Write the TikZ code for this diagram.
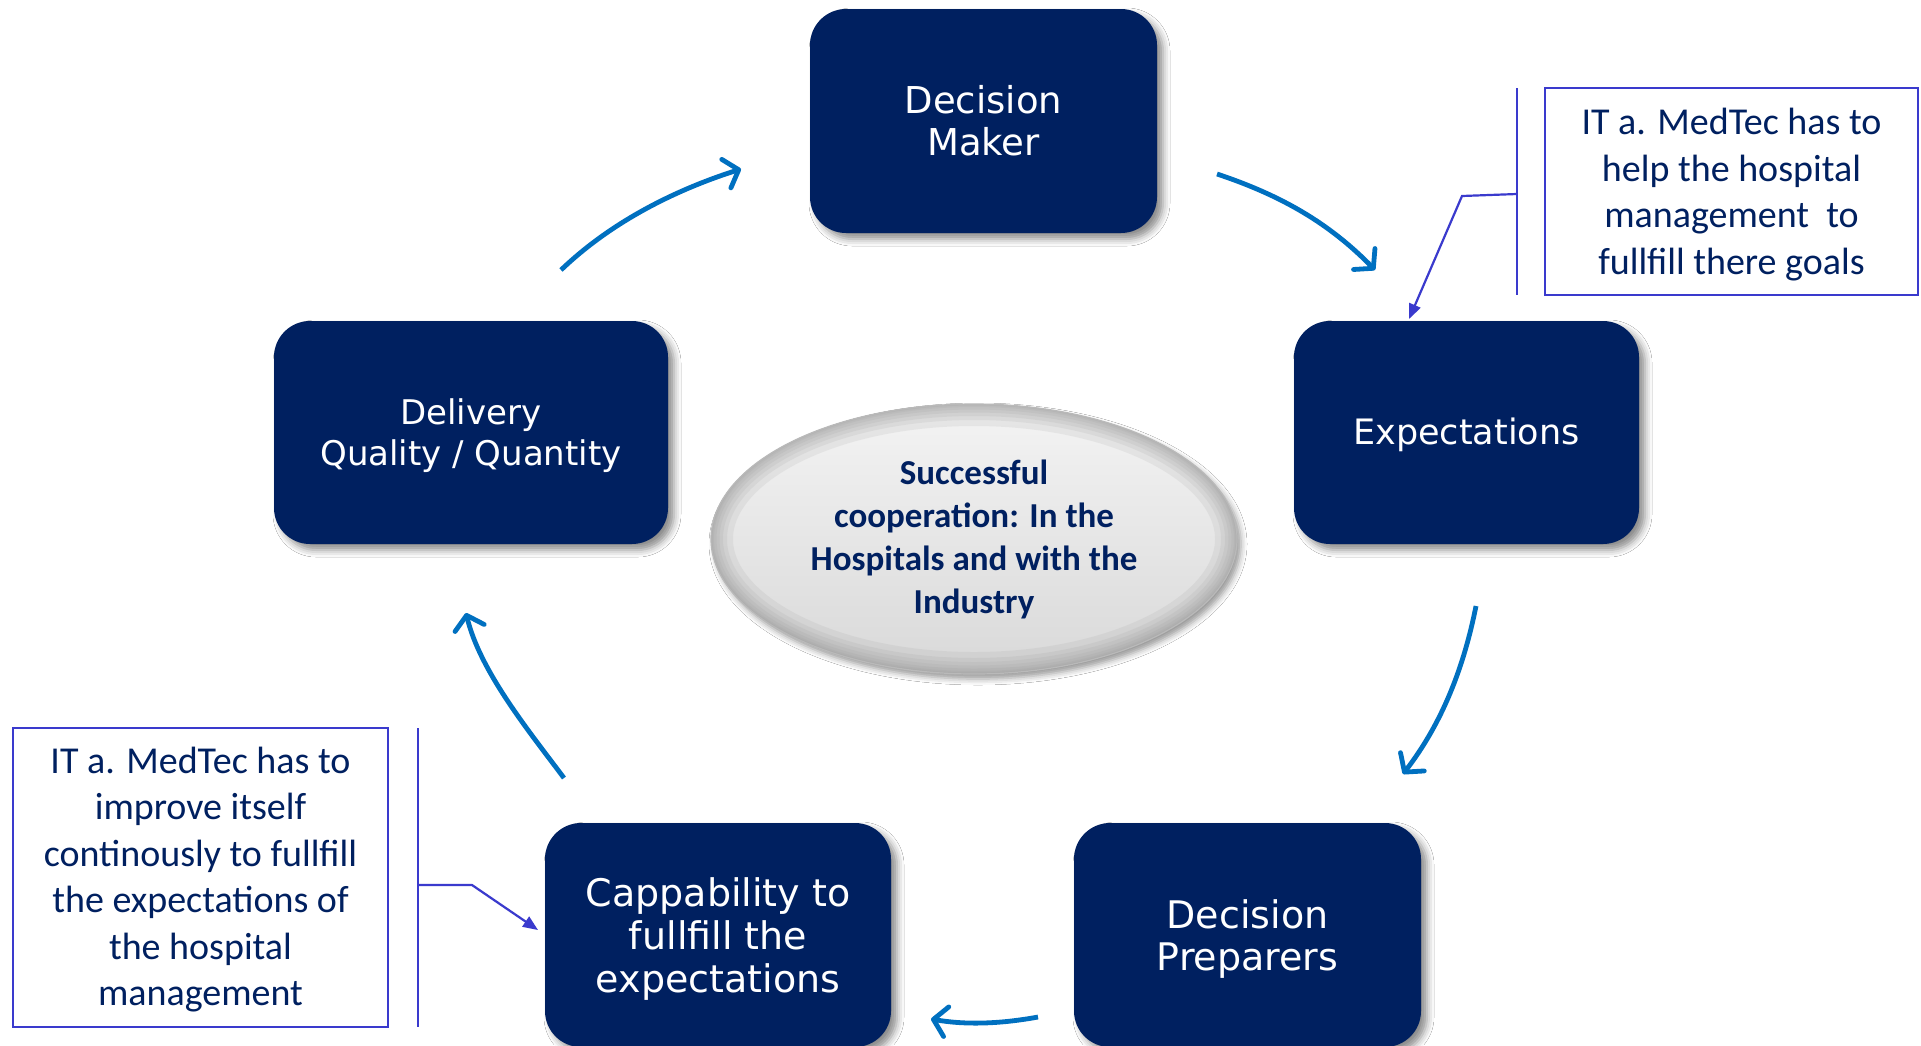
\documentclass[tikz,border=0pt]{standalone}
\usepackage{fontspec}
\setmainfont{DejaVu Sans}
\newfontfamily\calfont{Carlito}
\usetikzlibrary{arrows.meta,shadows.blur,shapes.geometric}
\definecolor{navy}{RGB}{0,32,96}
\definecolor{cycleblue}{RGB}{0,112,192}
\definecolor{callblue}{RGB}{58,58,205}
\begin{document}
\begin{tikzpicture}[x=1pt,y=-1pt,
  stagebox/.style={rectangle, rounded corners=36pt, fill=navy, text=white,
    inner sep=0pt, align=center,
    blur shadow={shadow xshift=6pt, shadow yshift=-6pt, shadow blur radius=7pt, shadow opacity=45}},
  hubnode/.style={ellipse, inner sep=0pt, align=center, text=navy,
    top color=gray!9, bottom color=gray!30,
    font=\calfont\bfseries\fontsize{35}{43}\selectfont,
    blur shadow={shadow xshift=4pt, shadow yshift=-5pt, shadow blur radius=6pt, shadow opacity=40}},
  notebox/.style={rectangle, draw=callblue, line width=2.6pt, fill=white, text=navy,
    inner sep=0pt, align=center, font=\calfont\fontsize{38}{46.5}\selectfont},
  cyclearrow/.style={draw=cycleblue, line width=4.8pt,
    -{Straight Barb[length=13pt,width=30pt,round]}},
  leader/.style={draw=callblue, line width=2.2pt},
  leaderarrow/.style={leader, -{Triangle[length=15pt,width=12pt]}},
  rimglow/.style={draw=gray!85, draw opacity=0.13}
]
\clip (0,0) rectangle (1921,1045);
\fill[white] (0,0) rectangle (1921,1045);

% stage boxes
\node[stagebox, minimum width=347pt, minimum height=224pt,
  font=\fontsize{37}{41.7}\selectfont] (dm) at (983.5,121) {Decision\\Maker};
\node[stagebox, minimum width=345pt, minimum height=223pt, text depth=3.3pt,
  font=\fontsize{35}{42}\selectfont] (exp) at (1466.5,432.5) {Expectations};
\node[stagebox, minimum width=394pt, minimum height=223pt, text depth=0.5pt,
  font=\fontsize{34}{40.4}\selectfont] (del) at (471,432.5) {Delivery\\Quality / Quantity};
\node[stagebox, minimum width=346pt, minimum height=224pt, text depth=-3pt,
  font=\fontsize{38}{43}\selectfont] (cap) at (718,935) {Cappability to\\fullfill the\\expectations};
\node[stagebox, minimum width=347pt, minimum height=224pt, text depth=-1pt,
  font=\fontsize{38}{41.7}\selectfont] (dp) at (1247.5,935) {Decision\\Preparers};

% hub
\node[hubnode, minimum width=526pt, minimum height=270pt, text depth=3.7pt] (hub) at (974,539)
  {Successful\\cooperation: In the\\Hospitals and with the\\Industry};
\begin{scope}
  \clip (hub.center) ellipse (263 and 135);
  \foreach \w in {44,32,24,17,11,6,3}
    \draw[rimglow, line width=\w pt] (hub.center) ellipse (263 and 135);
\end{scope}
\draw[gray!55, line width=1.2pt] (hub.center) ellipse (263 and 135);

% cycle arrow end points
\coordinate (a1s) at (561,270);  \coordinate (a1e) at (741,169);
\coordinate (a2s) at (1217,174); \coordinate (a2e) at (1375,270);
\coordinate (a3s) at (1476,606); \coordinate (a3e) at (1403,774);
\coordinate (a4s) at (1038,1017);\coordinate (a4e) at (931,1019);
\coordinate (a5s) at (564,778);  \coordinate (a5e) at (466,613);

\draw[cyclearrow] (a1s) .. controls (611,222) and (675,190) .. (a1e);
\draw[cyclearrow] (a2s) .. controls (1283,196) and (1330,224) .. (a2e);
\draw[cyclearrow] (a3s) .. controls (1464,666) and (1443,722) .. (a3e);
\draw[cyclearrow] (a4s) .. controls (1000,1024) and (965,1025) .. (a4e);
\draw[cyclearrow] (a5s) .. controls (528,730) and (480,671) .. (a5e);

% callouts
\node[notebox, minimum width=373pt, minimum height=207pt, text depth=0pt] (noteA) at (1731.5,191.5)
  {IT a. MedTec has to\\help the hospital\\management \ to\\fullfill there goals};
\node[notebox, minimum width=375pt, minimum height=299pt, text depth=2pt] (noteB) at (200.5,877.5)
  {IT a. MedTec has to\\improve itself\\continously to fullfill\\the expectations of\\the hospital\\management};

\coordinate (barAt) at (1517,88);  \coordinate (barAb) at (1517,295);
\coordinate (legA0) at (1517,194); \coordinate (legA1) at (1462,196);
\coordinate (tipA) at (1409,319);
\draw[leader] (barAt) -- (barAb);
\draw[leaderarrow] (legA0) -- (legA1) -- (tipA);

\coordinate (barBt) at (418,728);  \coordinate (barBb) at (418,1027);
\coordinate (legB0) at (418,885);  \coordinate (legB1) at (472,885);
\coordinate (tipB) at (538,930);
\draw[leader] (barBt) -- (barBb);
\draw[leaderarrow] (legB0) -- (legB1) -- (tipB);
\end{tikzpicture}
\end{document}
